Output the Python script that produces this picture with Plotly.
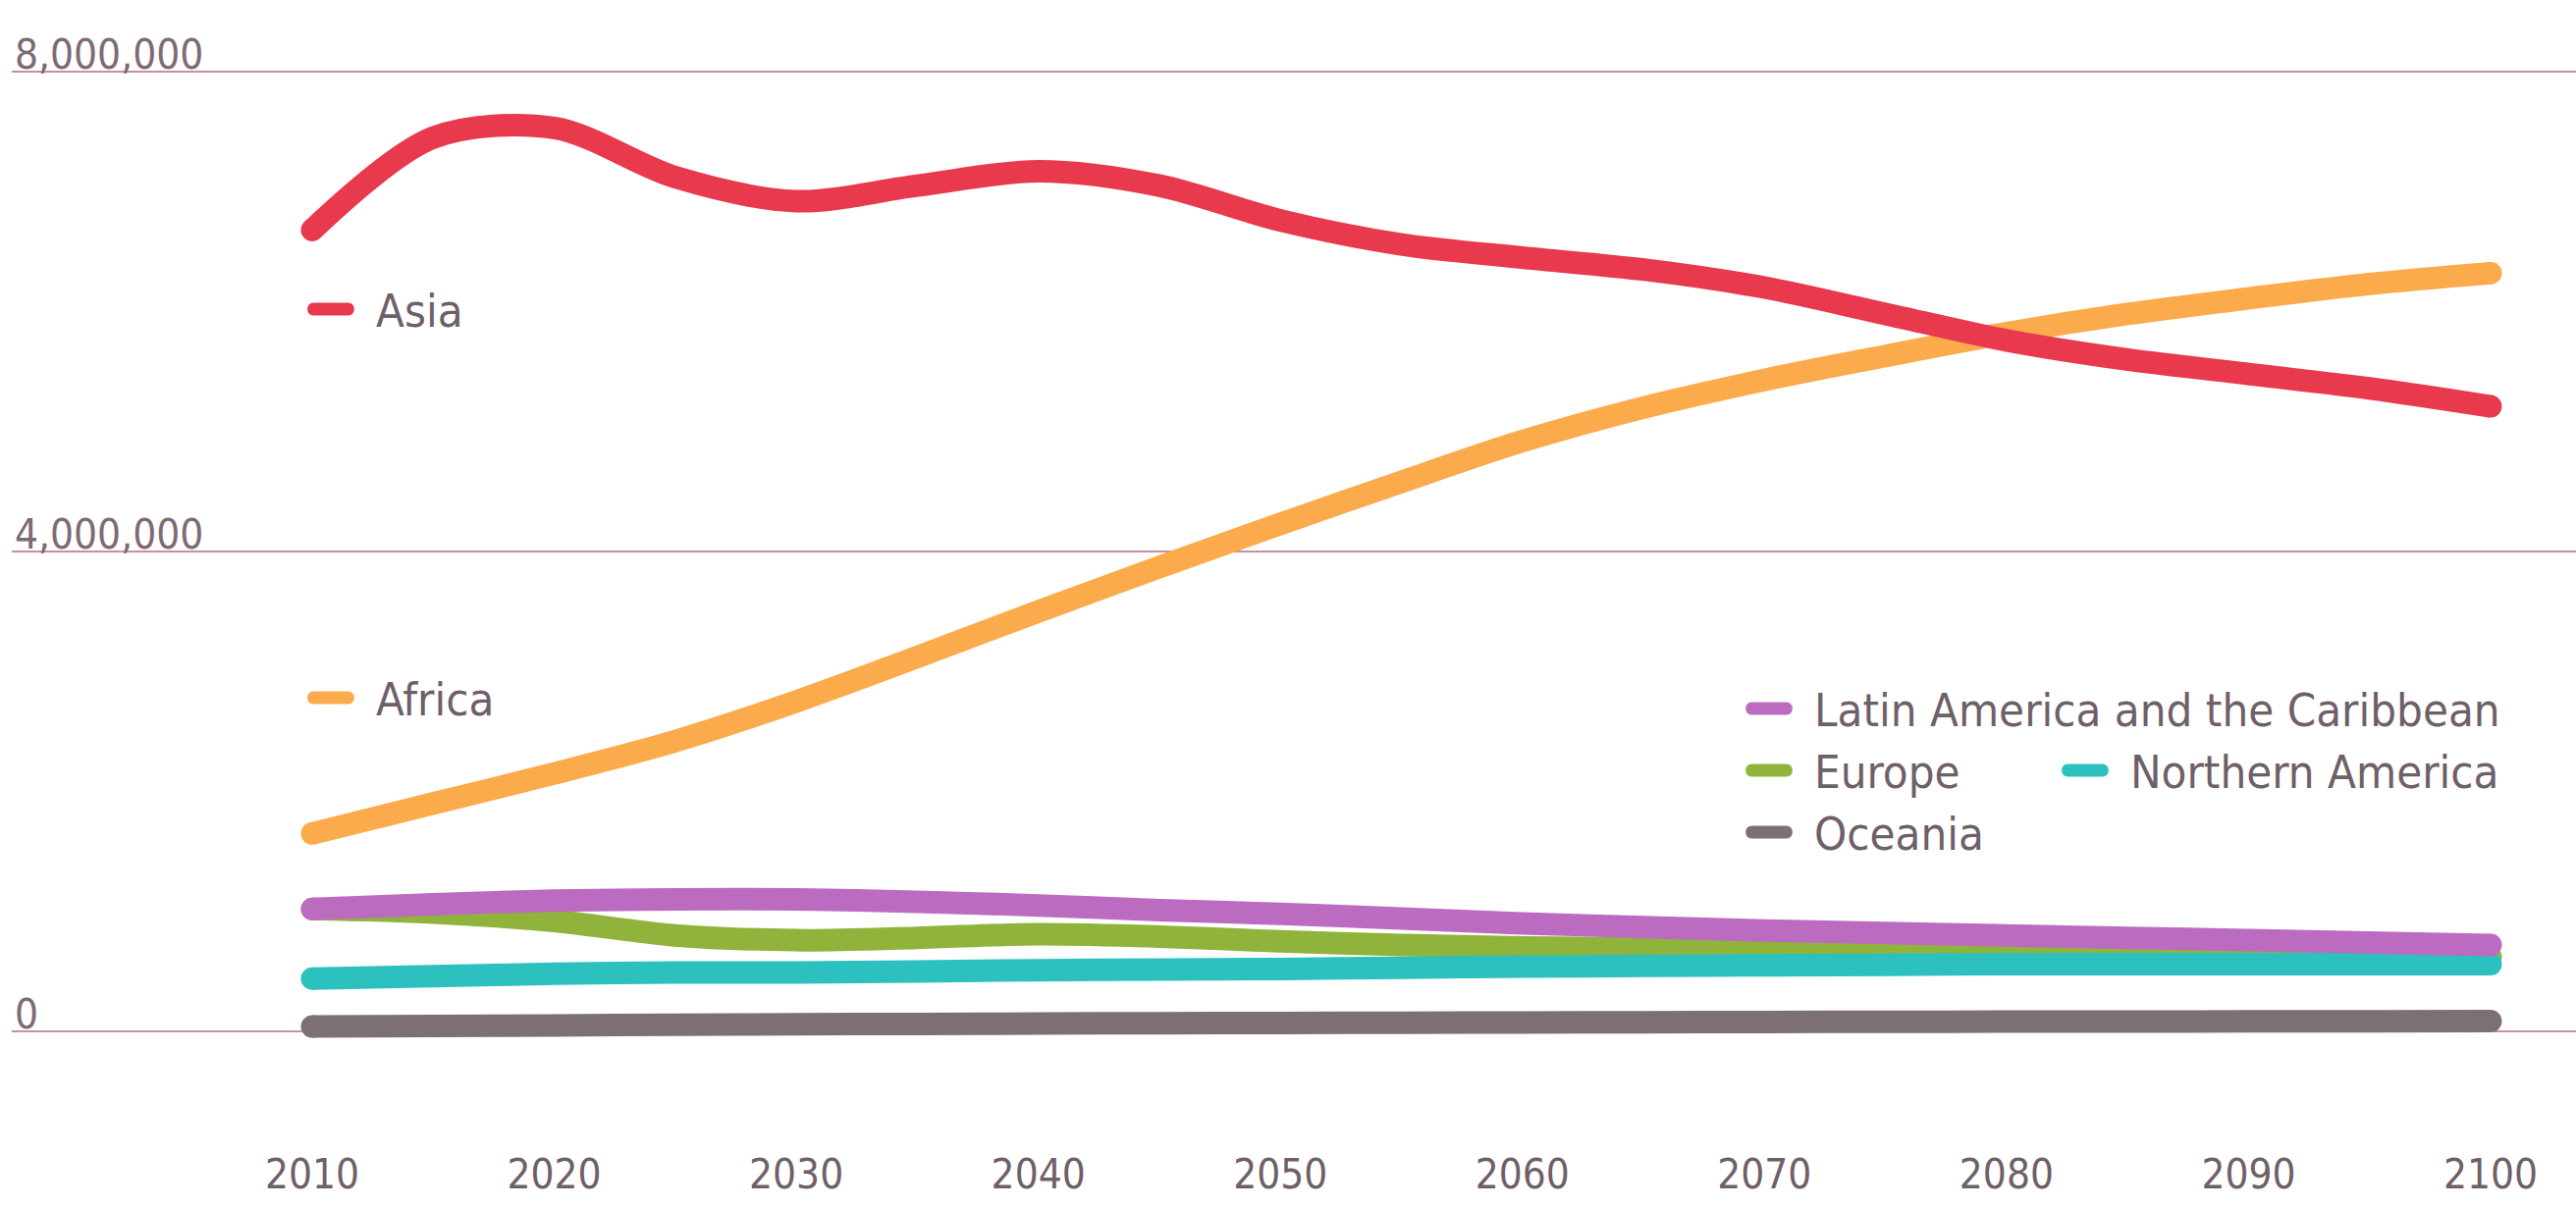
import plotly.graph_objects as go

# Population projections by region (in persons), 2010-2100
years = [2010, 2015, 2020, 2025, 2030, 2035, 2040, 2045, 2050, 2055,
         2060, 2065, 2070, 2075, 2080, 2085, 2090, 2095, 2100]

asia = [6.68, 7.45, 7.53, 7.12, 6.92, 7.05, 7.17, 7.05, 6.76, 6.56,
        6.45, 6.35, 6.20, 5.98, 5.76, 5.60, 5.48, 5.36, 5.21]
africa = [1.65, 1.90, 2.15, 2.42, 2.75, 3.12, 3.50, 3.87, 4.23, 4.58,
          4.92, 5.20, 5.43, 5.63, 5.82, 5.98, 6.11, 6.23, 6.32]
latin_america = [1.02, 1.06, 1.09, 1.10, 1.10, 1.08, 1.05, 1.01, 0.98, 0.94,
                 0.90, 0.87, 0.84, 0.82, 0.80, 0.78, 0.76, 0.74, 0.72]
europe = [1.02, 0.99, 0.92, 0.80, 0.76, 0.78, 0.81, 0.79, 0.75, 0.72,
          0.70, 0.69, 0.68, 0.67, 0.66, 0.65, 0.64, 0.63, 0.62]
northern_america = [0.44, 0.46, 0.48, 0.49, 0.49, 0.50, 0.51, 0.515, 0.52, 0.53,
                    0.54, 0.545, 0.55, 0.555, 0.56, 0.56, 0.56, 0.56, 0.56]
oceania = [0.040, 0.045, 0.050, 0.055, 0.060, 0.062, 0.065, 0.068, 0.070, 0.072,
           0.074, 0.076, 0.078, 0.080, 0.081, 0.082, 0.083, 0.084, 0.085]

x_ticks = [2010, 2020, 2030, 2040, 2050, 2060, 2070, 2080, 2090, 2100]
y_ticks = [0, 4000000, 8000000]
y_tick_labels = ["0", "4,000,000", "8,000,000"]

MILLION = 1_000_000

# (name, values, colour) in drawing order, bottom first
series = [
    ("Europe", europe, "#8fb33b"),
    ("Oceania", oceania, "#7d7075"),
    ("Northern America", northern_america, "#2cc0bf"),
    ("Latin America and the Caribbean", latin_america, "#bb6cc1"),
    ("Africa", africa, "#fbab4c"),
    ("Asia", asia, "#e8394d"),
]

W, H = 2624, 1231
LEFT = 12
PLOT_BOTTOM = 1150
LINE_W = 23
FONT = "DejaVu Sans Condensed, Liberation Sans Narrow, sans-serif"
TEXT_GREY = "#6f5f68"

# axis ranges: 2010 at x=318 px, 2100 at x=2537 px; 0 at y=1051 px, 8M at y=73 px
px_per_year = (2537 - 318) / 90
x_range = [2010 - (318 - LEFT) / px_per_year, 2100 + (W - 2537) / px_per_year]
units_per_px = 8 * MILLION / (1051 - 73)
y_range = [-(PLOT_BOTTOM - 1051) * units_per_px, 8 * MILLION + 73 * units_per_px]

# round the ends of each line with a dot the width of the stroke
end_caps = [LINE_W if i in (0, len(years) - 1) else 0 for i in range(len(years))]

fig = go.Figure()
for name, vals, color in series:
    fig.add_trace(go.Scatter(
        x=years, y=[v * MILLION for v in vals], name=name, mode="lines+markers",
        line=dict(color=color, width=LINE_W, shape="spline", smoothing=0.9),
        marker=dict(color=color, size=end_caps, opacity=1, line=dict(width=0)),
        showlegend=False, hoverinfo="x+y+name",
    ))

colors = {name: color for name, _, color in series}

def px_x(px):
    return (px - LEFT) / (W - LEFT)

def px_y(py):
    return (PLOT_BOTTOM - py) / PLOT_BOTTOM

# legend entries: (name, key left px, key centre y px)
legend_items = [
    ("Asia", 313, 315),
    ("Africa", 313, 711),
    ("Latin America and the Caribbean", 1778, 722),
    ("Europe", 1778, 785),
    ("Northern America", 2100, 785),
    ("Oceania", 1778, 848),
]

KEY_W, KEY_H = 48, 13
r = KEY_H / 2
pill = (f"M{r},{-r} L{KEY_W - r},{-r} "
        f"C{KEY_W + 0.3 * r},{-r} {KEY_W + 0.3 * r},{r} {KEY_W - r},{r} "
        f"L{r},{r} C{-0.3 * r},{r} {-0.3 * r},{-r} {r},{-r} Z")

shapes = []
annotations = []
for name, kx, ky in legend_items:
    shapes.append(dict(
        type="path", xref="paper", yref="paper",
        xsizemode="pixel", ysizemode="pixel",
        xanchor=px_x(kx), yanchor=px_y(ky), path=pill,
        fillcolor=colors[name], line=dict(width=0),
    ))
    annotations.append(dict(
        text=name, xref="paper", yref="paper",
        x=px_x(kx + KEY_W + 20), y=px_y(ky + 1),
        xanchor="left", yanchor="middle", showarrow=False,
        font=dict(family=FONT, size=47, color=TEXT_GREY),
    ))

fig.update_layout(
    width=W, height=H,
    margin=dict(l=LEFT, r=0, t=0, b=H - PLOT_BOTTOM),
    paper_bgcolor="white", plot_bgcolor="white",
    shapes=shapes, annotations=annotations,
    xaxis=dict(
        range=x_range, tickvals=x_ticks, showgrid=False, zeroline=False,
        showline=False, ticks="", ticklabelstandoff=18,
        tickfont=dict(family=FONT, size=42, color=TEXT_GREY),
    ),
    yaxis=dict(
        range=y_range, tickvals=y_ticks, ticktext=y_tick_labels,
        ticklabelposition="inside top", ticklabelshift=12,
        showgrid=True, gridcolor="#c98ea0", gridwidth=2,
        zeroline=False, showline=False, ticks="",
        tickfont=dict(family=FONT, size=42, color="#7d6a74"),
    ),
    showlegend=False,
)

fig.write_html("out.html")
